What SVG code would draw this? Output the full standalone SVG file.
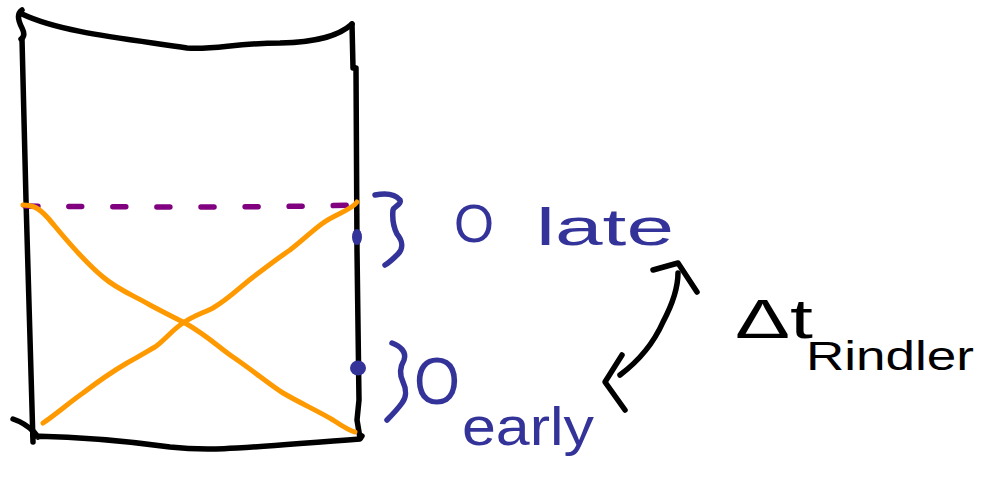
<svg xmlns="http://www.w3.org/2000/svg" width="991" height="493" viewBox="0 0 991 493">
<style>
.ink{fill:none;stroke:#000;stroke-width:5.5;stroke-linecap:round;stroke-linejoin:round}
.orange{fill:none;stroke:#ff9900;stroke-width:5;stroke-linecap:round;stroke-linejoin:round}
.dash{fill:none;stroke:#800080;stroke-width:5.5;stroke-linecap:round;stroke-dasharray:13 31}
.blue{fill:none;stroke:#333399;stroke-width:5.5;stroke-linecap:round;stroke-linejoin:round}
.bt{fill:#333399;font-family:"Liberation Sans","DejaVu Sans",sans-serif}
.kt{fill:#000;font-family:"Liberation Sans","DejaVu Sans",sans-serif}
</style>
<rect width="991" height="493" fill="#fff"/>
<g id="box">
<path class="ink" d="M22,10 Q15,15 22,28 Q26,36 21,39 M22,14 C60,32 120,38 187,48 C215,50 235,43 280,43 C320,42 340,35 352,24"/>
<path class="ink" d="M22,39 L26,200 L33,442"/>
<path class="ink" d="M352,24 L353,68 M356,68 L357,250 L359,400 L357,420 L360,438"/>
<path class="ink" d="M13,419 Q25,423 34,432 L38,437 M33,436 C80,437 120,440 170,447 C215,452 250,447 360,439 L362,436"/>
</g>
<g id="horizon">
<path class="dash" d="M25,206 C120,207 250,208 356,205"/>
</g>
<g id="lightrays">
<path class="orange" d="M23,205 C32,205 38,207 48,218 C60,232 80,258 103,277 C118,290 135,296 150,305 C165,313 175,318 185,323 C205,334 220,348 233,357 C255,372 270,385 283,393 C300,403 320,412 333,420 C342,426 350,431 355,432"/>
<path class="orange" d="M43,423 C55,415 70,402 83,393 C100,380 115,370 127,363 C140,356 148,351 155,347 C165,340 172,330 183,323 C193,316 203,313 213,308 C230,298 240,287 252,278 C265,268 278,258 290,250 C303,240 313,230 323,223 C335,214 352,210 357,202"/>
</g>
<g id="points">
<ellipse cx="357" cy="237" rx="5" ry="8" fill="#333399"/>
<ellipse cx="358" cy="368" rx="8" ry="7.5" fill="#333399"/>
</g>
<g id="o-late">
<path class="blue" d="M375,195 C385,193 395,194 400,200 C402,205 394,206 393,210 C392,220 394,228 397,234 C402,240 404,248 398,254 C394,258 390,262 385,265"/>
<text class="bt" x="454" y="242" font-size="54" textLength="40" lengthAdjust="spacingAndGlyphs">O</text>
<text class="bt" x="536" y="245" font-size="52" textLength="138" lengthAdjust="spacingAndGlyphs">late</text>
</g>
<g id="o-early">
<path class="blue" d="M392,343 C400,346 407,352 404,360 C400,367 399,374 403,382 C407,390 406,398 402,403 C397,410 392,415 387,420"/>
<text class="bt" x="414" y="404" font-size="66" textLength="46" lengthAdjust="spacingAndGlyphs">O</text>
<text class="bt" x="462" y="445" font-size="54" textLength="132" lengthAdjust="spacingAndGlyphs">early</text>
</g>
<g id="connectors">
<path class="ink" d="M620,375 C640,360 655,340 663,322 C672,305 678,290 678,273"/>
<path class="ink" d="M653,270 L678,263 L697,292"/>
<path class="ink" d="M622,355 L605,382 L625,410"/>
</g>
<g id="dt-rindler">
<text class="kt" x="735" y="338" font-size="56" textLength="78" lengthAdjust="spacingAndGlyphs">Δt</text>
<text class="kt" x="806" y="370" font-size="40" textLength="168" lengthAdjust="spacingAndGlyphs">Rindler</text>
</g>
</svg>
